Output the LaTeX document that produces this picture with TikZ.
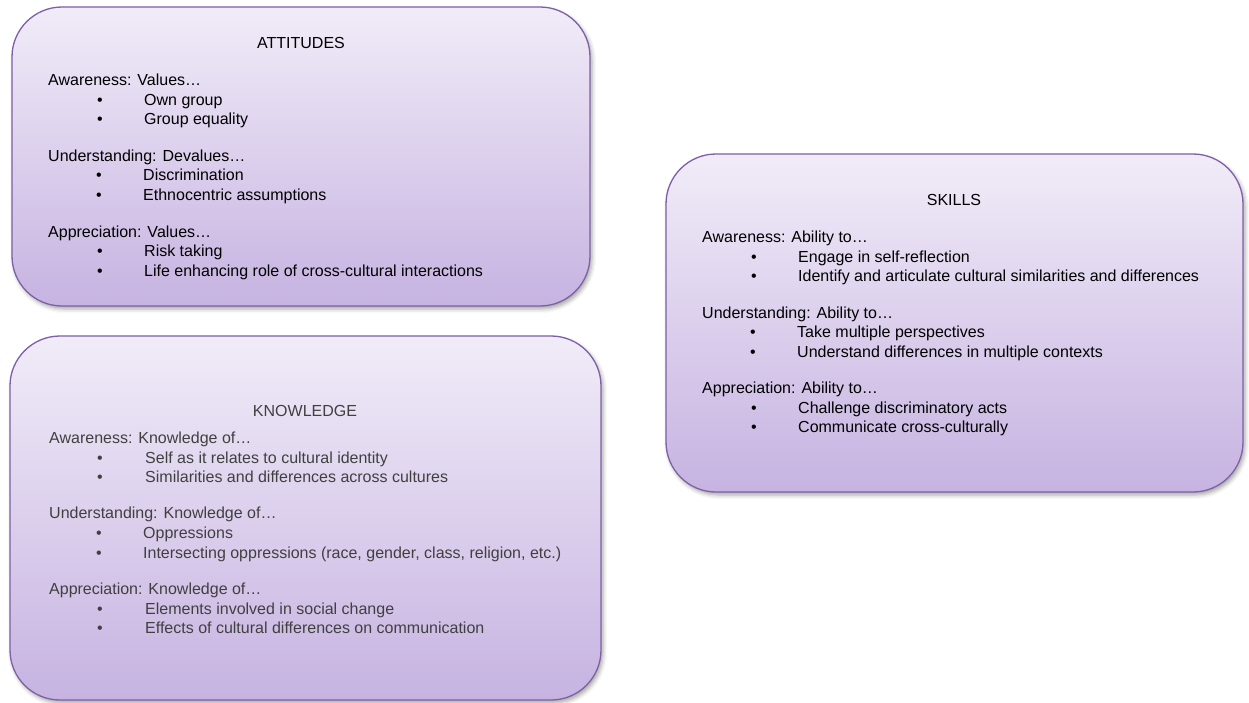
\documentclass[tikz,border=0pt]{standalone}
\usepackage{fontspec}
\setmainfont{Liberation Sans}
\usetikzlibrary{shadows.blur}
\definecolor{bordr}{HTML}{7D60A6}
\definecolor{topc}{HTML}{F1ECF8}
\definecolor{botc}{HTML}{C6B3E1}
\definecolor{gtext}{HTML}{404040}
\tikzset{
  box/.style={draw=bordr, line width=1.3pt, rounded corners=50pt, top color=topc, bottom color=botc,
    inner sep=0pt, outer sep=0pt,
    blur shadow={shadow xshift=2pt, shadow yshift=-3pt, shadow blur radius=4pt, shadow opacity=35}},
  txt/.style={anchor=base west, inner sep=0pt, font=\fontsize{16}{19}\selectfont},
  ttl/.style={anchor=base, inner sep=0pt, font=\fontsize{16}{19}\selectfont},
  bul/.style={anchor=base west, inner sep=0pt, font=\fontsize{16}{19}\selectfont},
}
\begin{document}
\begin{tikzpicture}[x=1pt,y=-1pt]
\useasboundingbox (0,0) rectangle (1249,702);
% boxes
\node[box, minimum width=578pt, minimum height=299pt] (att) at (301,156.5) {};
\node[box, minimum width=577pt, minimum height=338pt] (ski) at (954.5,323) {};
\node[box, minimum width=591pt, minimum height=364pt] (kno) at (305.5,518) {};

% ATTITUDES
\node[ttl] (attT) at (301,48) {ATTITUDES};
\node[txt] (attA) at (48,85) {Awareness: Values…};
\node[bul] (attb1) at (97,105) {•}; \node[txt] (att1) at (144,105) {Own group};
\node[bul] (attb2) at (97,124) {•}; \node[txt] (att2) at (144,124) {Group equality};
\node[txt] (attU) at (48,161) {Understanding: Devalues…};
\node[bul] (attb3) at (96,180) {•}; \node[txt] (att3) at (143,180) {Discrimination};
\node[bul] (attb4) at (96,200) {•}; \node[txt] (att4) at (143,200) {Ethnocentric assumptions};
\node[txt] (attP) at (48,237) {Appreciation: Values…};
\node[bul] (attb5) at (97,256) {•}; \node[txt] (att5) at (144,256) {Risk taking};
\node[bul] (attb6) at (97,276) {•}; \node[txt] (att6) at (144,276) {Life enhancing role of cross-cultural interactions};

% SKILLS
\node[ttl] (skiT) at (954,205) {SKILLS};
\node[txt] (skiA) at (702,242) {Awareness: Ability to…};
\node[bul] (skib1) at (751,262) {•}; \node[txt] (ski1) at (798,262) {Engage in self-reflection};
\node[bul] (skib2) at (751,281) {•}; \node[txt] (ski2) at (798,281) {Identify and articulate cultural similarities and differences};
\node[txt] (skiU) at (702,318) {Understanding: Ability to…};
\node[bul] (skib3) at (750,337) {•}; \node[txt] (ski3) at (797,337) {Take multiple perspectives};
\node[bul] (skib4) at (750,357) {•}; \node[txt] (ski4) at (797,357) {Understand differences in multiple contexts};
\node[txt] (skiP) at (702,393) {Appreciation: Ability to…};
\node[bul] (skib5) at (751,413) {•}; \node[txt] (ski5) at (798,413) {Challenge discriminatory acts};
\node[bul] (skib6) at (751,432) {•}; \node[txt] (ski6) at (798,432) {Communicate cross-culturally};

% KNOWLEDGE
\begin{scope}[every node/.append style={text=gtext}]
\node[ttl] (knoT) at (305,416) {KNOWLEDGE};
\node[txt] (knoA) at (49,443) {Awareness: Knowledge of…};
\node[bul] (knob1) at (97,463) {•}; \node[txt] (kno1) at (145,463) {Self as it relates to cultural identity};
\node[bul] (knob2) at (97,482) {•}; \node[txt] (kno2) at (145,482) {Similarities and differences across cultures};
\node[txt] (knoU) at (49,518) {Understanding: Knowledge of…};
\node[bul] (knob3) at (96,538) {•}; \node[txt] (kno3) at (143,538) {Oppressions};
\node[bul] (knob4) at (96,558) {•}; \node[txt] (kno4) at (143,558) {Intersecting oppressions (race, gender, class, religion, etc.)};
\node[txt] (knoP) at (49,594) {Appreciation: Knowledge of…};
\node[bul] (knob5) at (97,614) {•}; \node[txt] (kno5) at (145,614) {Elements involved in social change};
\node[bul] (knob6) at (97,633) {•}; \node[txt] (kno6) at (145,633) {Effects of cultural differences on communication};
\end{scope}
\end{tikzpicture}
\end{document}
